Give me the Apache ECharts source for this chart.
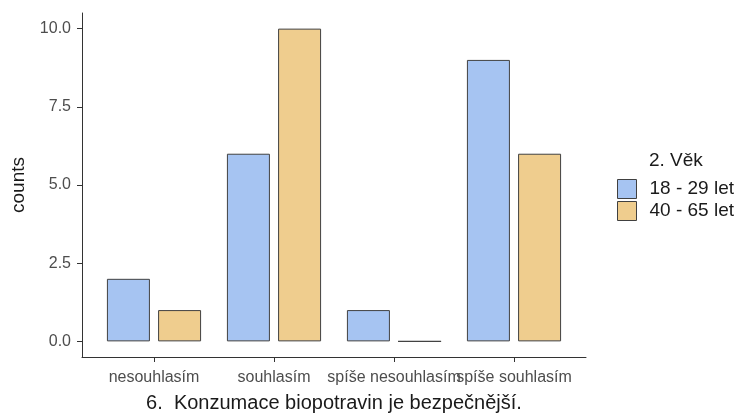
<!DOCTYPE html>
<html>
<head>
<meta charset="utf-8">
<script src="https://cdn.jsdelivr.net/npm/echarts@6/dist/echarts.min.js"></script>
<style>
html,body{margin:0;padding:0;background:#fff;}
#chart{width:741px;height:414px;}
</style>
</head>
<body>
<div id="chart"></div>
<script>
const categories = ['nesouhlasím', 'souhlasím', 'spíše nesouhlasím', 'spíše souhlasím'];
const seriesNames = ['18 - 29 let', '40 - 65 let'];
const young = [2, 6, 1, 9];
const older = [1, 10, 0, 6];
const yTicks = [0, 2.5, 5, 7.5, 10];
const xTitle = '6.  Konzumace biopotravin je bezpečnější.';
const yTitle = 'counts';
const legendTitle = '2. Věk';

const FONT = 'Liberation Sans, Arial, sans-serif';
const chart = echarts.init(document.getElementById('chart'), null, {renderer: 'canvas'});
const lineColor = '#333333';
const borderColor = '#404040';

// plotting panel: y from 13 (10.5) to 357 (-0.5) -> 31.27 px per unit
const unit = 344 / 11;
const pad = 0.5 * unit;

chart.setOption({
  animation: false,
  backgroundColor: '#ffffff',
  textStyle: {fontFamily: FONT},
  grid: [
    {left: 82, right: 155, top: 13, bottom: 57, containLabel: false, outerBoundsMode: 'none'},
    {left: 94, width: 480, top: 13 + pad, bottom: 57 + pad, containLabel: false, outerBoundsMode: 'none'}
  ],
  xAxis: [
    {
      gridIndex: 0, type: 'value', min: 0, max: 1,
      axisLine: {show: true, onZero: false, lineStyle: {color: lineColor, width: 1}},
      axisTick: {show: false}, axisLabel: {show: false}, splitLine: {show: false},
      name: xTitle, nameLocation: 'middle', nameGap: 36,
      nameTextStyle: {fontFamily: FONT, fontSize: 20, color: '#1a1a1a'}
    },
    {
      gridIndex: 1, type: 'category', data: categories, offset: pad,
      axisLine: {show: false, onZero: false},
      axisTick: {show: true, alignWithLabel: true, length: 5, lineStyle: {color: lineColor}},
      axisLabel: {interval: 0, margin: 13, fontFamily: FONT, fontSize: 16, color: '#4d4d4d'},
      splitLine: {show: false}
    }
  ],
  yAxis: [
    {
      gridIndex: 0, type: 'value', min: 0, max: 1,
      axisLine: {show: true, onZero: false, lineStyle: {color: lineColor, width: 1}},
      axisTick: {show: false}, axisLabel: {show: false}, splitLine: {show: false},
      name: yTitle, nameLocation: 'middle', nameGap: 54, nameRotate: 90,
      nameTextStyle: {fontFamily: FONT, fontSize: 19, color: '#1a1a1a'}
    },
    {
      gridIndex: 1, type: 'value', min: yTicks[0], max: yTicks[yTicks.length - 1],
      interval: yTicks[1] - yTicks[0], offset: 12,
      axisLine: {show: false, onZero: false},
      axisTick: {show: true, length: 5, lineStyle: {color: lineColor}},
      axisLabel: {margin: 11, fontFamily: FONT, fontSize: 16, color: '#4d4d4d',
        formatter: v => Number(v).toFixed(1)},
      splitLine: {show: false}
    }
  ],
  legend: {
    orient: 'vertical', left: 617, top: 179, padding: 0, icon: 'rect',
    itemWidth: 19, itemHeight: 19, itemGap: 2,
    data: seriesNames,
    itemStyle: {borderColor: borderColor, borderWidth: 1},
    textStyle: {fontFamily: FONT, fontSize: 19, color: '#1a1a1a', lineHeight: 19, padding: [0, 0, 0, 8]}
  },
  graphic: [{
    type: 'text', left: 649, top: 151,
    style: {text: legendTitle, font: '19px ' + FONT, fill: '#1a1a1a'}
  }],
  series: [
    {
      name: seriesNames[0], type: 'bar', xAxisIndex: 1, yAxisIndex: 1, data: young,
      barWidth: 43, barGap: '19%',
      itemStyle: {color: '#A6C4F2', borderColor: borderColor, borderWidth: 1}
    },
    {
      name: seriesNames[1], type: 'bar', xAxisIndex: 1, yAxisIndex: 1, data: older,
      barWidth: 43, barGap: '19%',
      itemStyle: {color: '#EFCD8E', borderColor: borderColor, borderWidth: 1}
    }
  ]
});
</script>
</body>
</html>
